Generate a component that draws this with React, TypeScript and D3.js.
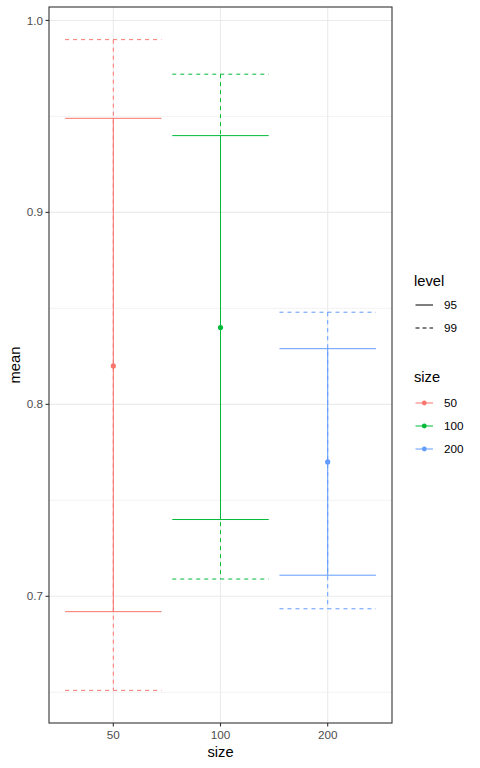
import React from "react";
import * as d3 from "d3";

const sizes = ["50", "100", "200"];
const means = [0.82, 0.84, 0.77];
const lower95 = [0.692, 0.74, 0.711];
const upper95 = [0.949, 0.94, 0.829];
const lower99 = [0.651, 0.709, 0.6935];
const upper99 = [0.99, 0.972, 0.848];
const yTicks = [0.7, 0.8, 0.9, 1.0];
const yMinor = [0.65, 0.75, 0.85, 0.95];
const levels = ["95", "99"];
const colors = ["#F8766D", "#00BA38", "#619CFF"];

export default function App() {
  const W = 480, H = 768;
  const left = 49, right = 392, top = 7, bottom = 723;
  const y = d3.scaleLinear().domain([0.634, 1.007]).range([bottom, top]);
  const xPos = d3.scaleLinear().domain([0.4, 3.6]).range([left, right]);
  const band = 0.45;
  const font = "Arial, 'Liberation Sans', sans-serif";
  const grid = "#EBEBEB";

  return (
    <svg width={W} height={H} style={{ position: "absolute", left: 0, top: 0 }} fontFamily={font}>
      <rect x={0} y={0} width={W} height={H} fill="#fff" />
      {yMinor.map((v) => (
        <line key={"mi" + v} x1={left} x2={right} y1={y(v)} y2={y(v)} stroke={grid} strokeWidth={0.6} />
      ))}
      {yTicks.map((v) => (
        <line key={"ma" + v} x1={left} x2={right} y1={y(v)} y2={y(v)} stroke={grid} strokeWidth={1.1} />
      ))}
      {sizes.map((s, i) => (
        <line key={"vx" + s} x1={xPos(i + 1)} x2={xPos(i + 1)} y1={top} y2={bottom} stroke={grid} strokeWidth={1.1} />
      ))}
      {sizes.map((s, i) => {
        const cx = xPos(i + 1);
        const x0 = xPos(i + 1 - band);
        const x1 = xPos(i + 1 + band);
        const c = colors[i];
        return (
          <g key={"eb" + s}>
            <g stroke={c} strokeWidth={1} strokeDasharray="4,4" fill="none">
              <line x1={x0} x2={x1} y1={y(upper99[i])} y2={y(upper99[i])} />
              <line x1={x0} x2={x1} y1={y(lower99[i])} y2={y(lower99[i])} />
              <line x1={cx} x2={cx} y1={y(upper99[i])} y2={y(lower99[i])} />
            </g>
            <g stroke={c} strokeWidth={1} fill="none">
              <line x1={x0} x2={x1} y1={y(upper95[i])} y2={y(upper95[i])} />
              <line x1={x0} x2={x1} y1={y(lower95[i])} y2={y(lower95[i])} />
              <line x1={cx} x2={cx} y1={y(upper95[i])} y2={y(lower95[i])} />
            </g>
            <circle cx={cx} cy={y(means[i])} r={2.6} fill={c} />
          </g>
        );
      })}
      <rect x={left} y={top} width={right - left} height={bottom - top} fill="none" stroke="#333333" strokeWidth={1.1} />
      {yTicks.map((v) => (
        <g key={"yt" + v}>
          <line x1={left - 3.5} x2={left} y1={y(v)} y2={y(v)} stroke="#333333" strokeWidth={1.1} />
          <text x={left - 6} y={y(v)} dy="0.35em" textAnchor="end" fontSize={11.7} fill="#4D4D4D">
            {v.toFixed(1)}
          </text>
        </g>
      ))}
      {sizes.map((s, i) => (
        <g key={"xt" + s}>
          <line x1={xPos(i + 1)} x2={xPos(i + 1)} y1={bottom} y2={bottom + 3.5} stroke="#333333" strokeWidth={1.1} />
          <text x={xPos(i + 1)} y={bottom + 16} textAnchor="middle" fontSize={11.7} fill="#4D4D4D">
            {s}
          </text>
        </g>
      ))}
      <text x={(left + right) / 2} y={757} textAnchor="middle" fontSize={14.7} fill="#000">size</text>
      <text transform={`translate(20,${(top + bottom) / 2}) rotate(-90)`} textAnchor="middle" fontSize={14.7} fill="#000">mean</text>

      <text x={414} y={286} fontSize={14.7} fill="#000">level</text>
      {levels.map((l, i) => (
        <g key={"lv" + l}>
          <line x1={415.5} x2={433} y1={305 + i * 23} y2={305 + i * 23} stroke="#000" strokeWidth={1} strokeDasharray={i === 1 ? "4,3" : undefined} />
          <text x={444} y={305 + i * 23} dy="0.35em" fontSize={11.7} fill="#000">{l}</text>
        </g>
      ))}
      <text x={414} y={382} fontSize={14.7} fill="#000">size</text>
      {sizes.map((s, i) => (
        <g key={"lz" + s}>
          <line x1={415.5} x2={433} y1={403 + i * 23} y2={403 + i * 23} stroke={colors[i]} strokeWidth={1} />
          <circle cx={424.3} cy={403 + i * 23} r={2.4} fill={colors[i]} />
          <text x={444} y={403 + i * 23} dy="0.35em" fontSize={11.7} fill="#000">{s}</text>
        </g>
      ))}
    </svg>
  );
}
